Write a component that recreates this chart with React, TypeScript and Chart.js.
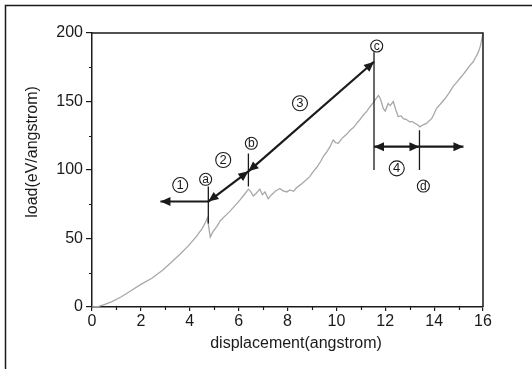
import React, { useEffect, useRef } from 'react';
import { Chart, registerables } from 'chart.js';

Chart.register(...registerables);

// ---- data ----
const displacement = [
  0, 0.27, 0.5, 0.82, 1.2, 1.64, 2.0, 2.45, 2.9, 3.27, 3.6, 3.96, 4.25, 4.5, 4.65, 4.72, 4.78, 4.84,
  4.95, 5.1, 5.25, 5.45, 5.65, 5.85, 6.05, 6.25, 6.4, 6.5, 6.6, 6.72, 6.87, 6.97, 7.08, 7.21, 7.35,
  7.5, 7.69, 7.8, 7.97, 8.1, 8.25, 8.37, 8.55, 8.78, 8.9, 9.06, 9.2, 9.35, 9.47, 9.6, 9.74, 9.87,
  9.97, 10.08, 10.18, 10.28, 10.42, 10.56, 10.7, 10.83, 10.95, 11.1, 11.25, 11.37, 11.5, 11.58,
  11.72, 11.8, 11.92, 12.0, 12.12, 12.2, 12.33, 12.43, 12.53, 12.65, 12.74, 12.85, 13.01, 13.1,
  13.22, 13.32, 13.42, 13.55, 13.69, 13.8, 13.9, 14.0, 14.1, 14.25, 14.44, 14.6, 14.78, 14.92,
  15.06, 15.2, 15.33, 15.45, 15.6, 15.72, 15.81, 15.9, 16.0,
];
const load = [
  0, 0.5, 1.8, 3.9, 7.5, 12.4, 16.5, 21, 27, 33, 38.5, 45, 51, 57, 62, 65, 58, 51,
  55, 58.5, 63, 66.5, 70, 74, 78, 82.5, 86, 84, 81, 83, 86, 82, 84, 79, 82,
  84.5, 86.5, 85, 84, 85.5, 84.5, 87, 89.5, 93, 95, 99, 102, 106, 110, 113, 117, 122,
  120, 119.5, 122, 124, 126, 129, 131, 134, 136.5, 140, 143, 146, 149, 151,
  154.5, 152, 145, 143, 148.5, 147, 150, 144, 139, 139.5, 137.5, 137, 135, 135.5,
  134, 133, 131.5, 133, 134, 136, 137.5, 141, 145, 148, 152, 156, 161, 164,
  167, 170, 173, 176, 179, 183, 186, 191, 200,
];

const xMinorTicks = [1, 3, 5, 7, 9, 11, 13, 15];
const yMinorTicks = [25, 75, 125, 175];

const xTitle = 'displacement(angstrom)';
const yTitle = 'load(eV/angstrom)';

// annotation geometry in data units
const vLineX = [4.76, 6.4, 11.54, 13.4];
const vLineFrom = [61, 88, 100, 100];
const vLineTo = [88, 112, 186, 129];

const arrowX1 = [4.76, 4.76, 6.4, 11.54, 13.4];
const arrowY1 = [77, 77, 99, 117, 117];
const arrowX2 = [2.8, 6.4, 11.54, 13.4, 15.2];
const arrowY2 = [77, 99, 179, 117, 117];
const arrowStartHead = [false, true, true, true, false];
const arrowEndHead = [true, true, true, true, true];

const markText = ['1', '2', '3', '4', 'a', 'b', 'c', 'd'];
const markX = [3.61, 5.37, 8.51, 12.47, 4.65, 6.52, 11.65, 13.56];
const markY = [89, 107.3, 148.7, 101.2, 93.2, 119.5, 190.5, 88.3];
const markRadius = [7.5, 7.5, 7.5, 7.5, 6, 6, 6, 6];

const FONT = '"Liberation Sans", Arial, Helvetica, sans-serif';
const INK = '#1a1a1a';

function arrowHead(ctx: CanvasRenderingContext2D, fx: number, fy: number, tx: number, ty: number) {
  const ang = Math.atan2(ty - fy, tx - fx);
  const len = 10;
  const half = 4.5;
  ctx.beginPath();
  ctx.moveTo(tx, ty);
  ctx.lineTo(tx - len * Math.cos(ang) + half * Math.sin(ang), ty - len * Math.sin(ang) - half * Math.cos(ang));
  ctx.lineTo(tx - len * Math.cos(ang) - half * Math.sin(ang), ty - len * Math.sin(ang) + half * Math.cos(ang));
  ctx.closePath();
  ctx.fill();
}

const decorPlugin = {
  id: 'decor',
  afterDraw(chart: any) {
    const ctx: CanvasRenderingContext2D = chart.ctx;
    const xs = chart.scales.x;
    const ys = chart.scales.y;
    const { left, right, top, bottom } = chart.chartArea;
    ctx.save();

    // outer frame (left and top edges)
    ctx.strokeStyle = INK;
    ctx.lineWidth = 1.5;
    ctx.beginPath();
    ctx.moveTo(5.5, 369);
    ctx.lineTo(5.5, 5.5);
    ctx.lineTo(532, 5.5);
    ctx.stroke();

    // plot box top & right
    ctx.lineWidth = 1.5;
    ctx.beginPath();
    ctx.moveTo(left, top);
    ctx.lineTo(right, top);
    ctx.lineTo(right, bottom);
    ctx.stroke();

    // minor ticks
    ctx.lineWidth = 1.2;
    ctx.beginPath();
    xMinorTicks.forEach((v) => {
      const px = Math.round(xs.getPixelForValue(v)) + 0.5;
      ctx.moveTo(px, bottom);
      ctx.lineTo(px, bottom + 3);
    });
    yMinorTicks.forEach((v) => {
      const py = Math.round(ys.getPixelForValue(v)) + 0.5;
      ctx.moveTo(left, py);
      ctx.lineTo(left - 3, py);
    });
    ctx.stroke();

    // axis titles
    ctx.fillStyle = INK;
    ctx.font = `16px ${FONT}`;
    ctx.textAlign = 'center';
    ctx.textBaseline = 'middle';
    ctx.fillText(xTitle, 296, 344);
    ctx.save();
    ctx.translate(33, 152);
    ctx.rotate(-Math.PI / 2);
    ctx.fillText(yTitle, 0, 0);
    ctx.restore();

    // vertical marker lines
    ctx.strokeStyle = INK;
    ctx.lineWidth = 1.3;
    ctx.beginPath();
    vLineX.forEach((v, i) => {
      const px = xs.getPixelForValue(v);
      ctx.moveTo(px, ys.getPixelForValue(vLineFrom[i]));
      ctx.lineTo(px, ys.getPixelForValue(vLineTo[i]));
    });
    ctx.stroke();

    // arrows
    ctx.lineWidth = 2.2;
    ctx.fillStyle = INK;
    arrowX1.forEach((_, i) => {
      const x1 = xs.getPixelForValue(arrowX1[i]);
      const y1 = ys.getPixelForValue(arrowY1[i]);
      const x2 = xs.getPixelForValue(arrowX2[i]);
      const y2 = ys.getPixelForValue(arrowY2[i]);
      ctx.beginPath();
      ctx.moveTo(x1, y1);
      ctx.lineTo(x2, y2);
      ctx.stroke();
      if (arrowEndHead[i]) arrowHead(ctx, x1, y1, x2, y2);
      if (arrowStartHead[i]) arrowHead(ctx, x2, y2, x1, y1);
    });

    // circled labels
    markText.forEach((t, i) => {
      const px = xs.getPixelForValue(markX[i]);
      const py = ys.getPixelForValue(markY[i]);
      ctx.fillStyle = '#ffffff';
      ctx.strokeStyle = INK;
      ctx.lineWidth = 1.1;
      ctx.beginPath();
      ctx.arc(px, py, markRadius[i], 0, Math.PI * 2);
      ctx.fill();
      ctx.stroke();
      ctx.fillStyle = INK;
      ctx.font = `${markRadius[i] > 6 ? 13 : 12}px ${FONT}`;
      ctx.textAlign = 'center';
      ctx.textBaseline = 'middle';
      ctx.fillText(t, px, py + 0.5);
    });

    ctx.restore();
  },
};

export default function App() {
  const canvasRef = useRef<HTMLCanvasElement | null>(null);

  useEffect(() => {
    const canvas = canvasRef.current;
    if (!canvas) return;
    const points = displacement.map((d, i) => ({ x: d, y: load[i] }));
    const chart = new Chart(canvas, {
      type: 'line',
      data: {
        datasets: [
          {
            data: points,
            borderColor: '#a8a8a8',
            borderWidth: 1.3,
            pointRadius: 0,
            tension: 0,
            fill: false,
          },
        ],
      },
      options: {
        responsive: false,
        animation: false,
        events: [],
        layout: { padding: { top: 33, right: 49, left: 0, bottom: 0 } },
        plugins: { legend: { display: false }, tooltip: { enabled: false }, title: { display: false } },
        scales: {
          x: {
            type: 'linear',
            min: 0,
            max: 16,
            afterFit: (s: any) => {
              s.height = 62;
            },
            ticks: {
              stepSize: 2,
              padding: 1,
              color: INK,
              font: { family: FONT, size: 16 },
              maxRotation: 0,
            },
            grid: { display: true, drawOnChartArea: false, drawTicks: true, tickLength: 4, color: INK, lineWidth: 1.2 },
            border: { display: true, color: INK, width: 1.5 },
          },
          y: {
            type: 'linear',
            min: 0,
            max: 200,
            afterFit: (s: any) => {
              s.width = 92;
            },
            ticks: {
              stepSize: 50,
              padding: 3,
              color: INK,
              font: { family: FONT, size: 16 },
            },
            grid: { display: true, drawOnChartArea: false, drawTicks: true, tickLength: 6, color: INK, lineWidth: 1.2 },
            border: { display: true, color: INK, width: 1.5 },
          },
        },
      },
      plugins: [decorPlugin],
    });
    return () => chart.destroy();
  }, []);

  return (
    <div style={{ position: 'absolute', left: 0, top: 0, width: 532, height: 369, background: '#fff' }}>
      <canvas ref={canvasRef} width={532} height={369} style={{ display: 'block', width: 532, height: 369 }} />
    </div>
  );
}
